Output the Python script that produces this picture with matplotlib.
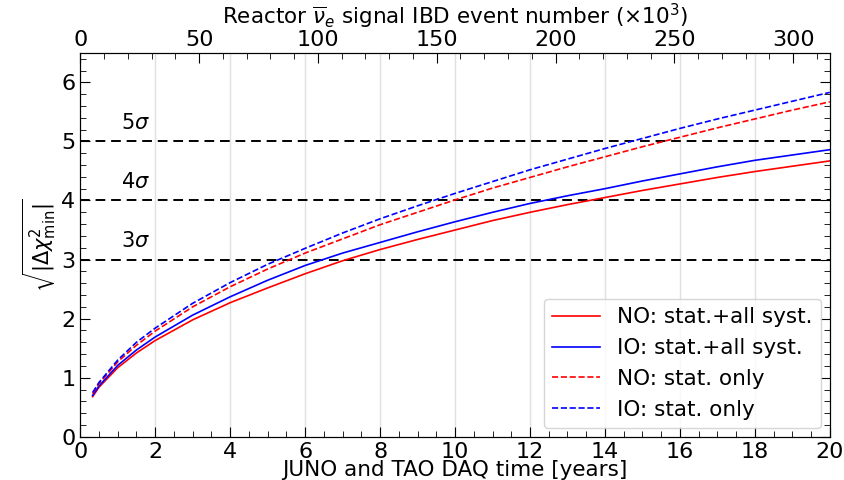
import numpy as np
import matplotlib
matplotlib.use("Agg")
import matplotlib.pyplot as plt
from matplotlib.ticker import MultipleLocator

# DAQ time [years] and sqrt(|dchi2_min|) for each ordering / uncertainty set
years = [0.33, 0.5, 1, 1.5, 2, 3, 4, 5, 6, 7, 8, 9, 10,
         11, 12, 13, 14, 15, 16, 17, 18, 19, 20]
no_syst = [0.68, 0.84, 1.17, 1.42, 1.63, 1.98, 2.27, 2.52, 2.76, 2.98, 3.17, 3.34, 3.50,
           3.66, 3.80, 3.93, 4.05, 4.17, 4.28, 4.39, 4.49, 4.58, 4.67]
io_syst = [0.70, 0.86, 1.21, 1.47, 1.69, 2.06, 2.37, 2.65, 2.90, 3.11, 3.29, 3.47, 3.64,
           3.80, 3.95, 4.08, 4.20, 4.33, 4.45, 4.57, 4.68, 4.77, 4.86]
no_stat = [0.73, 0.90, 1.27, 1.55, 1.79, 2.20, 2.54, 2.84, 3.11, 3.35, 3.59, 3.80, 4.01,
           4.21, 4.39, 4.57, 4.74, 4.91, 5.07, 5.23, 5.38, 5.53, 5.67]
io_stat = [0.75, 0.92, 1.30, 1.60, 1.84, 2.26, 2.61, 2.92, 3.19, 3.45, 3.69, 3.91, 4.12,
           4.32, 4.52, 4.70, 4.88, 5.05, 5.22, 5.38, 5.53, 5.68, 5.83]

sigmas = [3, 4, 5]
events_per_year = 15.77  # x10^3 IBD events per year

fig, ax = plt.subplots(figsize=(8.45, 4.8), dpi=100)
fig.subplots_adjust(left=0.095, right=0.982, bottom=0.09, top=0.89)

for t in range(2, 20, 2):
    ax.axvline(t, color="#e0e0e0", lw=1.0, zorder=0)

for s in sigmas:
    ax.axhline(s, color="black", ls=(0, (5, 3)), lw=1.4)
    ax.text(1.1, s + 0.32, r"$%d\sigma$" % s, fontsize=15, va="center")

ax.plot(years, no_syst, color="red", lw=1.2, label="NO: stat.+all syst.")
ax.plot(years, io_syst, color="blue", lw=1.2, label="IO: stat.+all syst.")
ax.plot(years, no_stat, color="red", lw=1.2, ls="--", label="NO: stat. only")
ax.plot(years, io_stat, color="blue", lw=1.2, ls="--", label="IO: stat. only")

ax.set_xlim(0, 20)
ax.set_ylim(0, 6.5)
ax.xaxis.set_major_locator(MultipleLocator(2))
ax.xaxis.set_minor_locator(MultipleLocator(0.5))
ax.yaxis.set_major_locator(MultipleLocator(1))
ax.yaxis.set_minor_locator(MultipleLocator(0.2))
ax.tick_params(which="both", direction="in", labelsize=16, top=False, right=True)
ax.tick_params(which="major", length=7)
ax.tick_params(which="minor", length=4)
ax.set_xlabel("JUNO and TAO DAQ time [years]", fontsize=15.5, labelpad=-1)
ax.set_ylabel(r"$\sqrt{|\Delta\chi^2_{\rm min}|}$", fontsize=15, labelpad=2)

top = ax.twiny()
top.set_xlim(0, 20 * events_per_year)
top.xaxis.set_major_locator(MultipleLocator(50))
top.xaxis.set_minor_locator(MultipleLocator(10))
top.tick_params(which="both", direction="in", labelsize=16, pad=2)
top.tick_params(which="major", length=7)
top.tick_params(which="minor", length=4)
top.set_xlabel(r"Reactor $\overline{\nu}_e$ signal IBD event number ($\times 10^3$)",
               fontsize=15.5, labelpad=4)

ax.legend(loc="lower right", fontsize=15.5, handlelength=2.2, borderaxespad=0.4)

fig.savefig("out.png")
